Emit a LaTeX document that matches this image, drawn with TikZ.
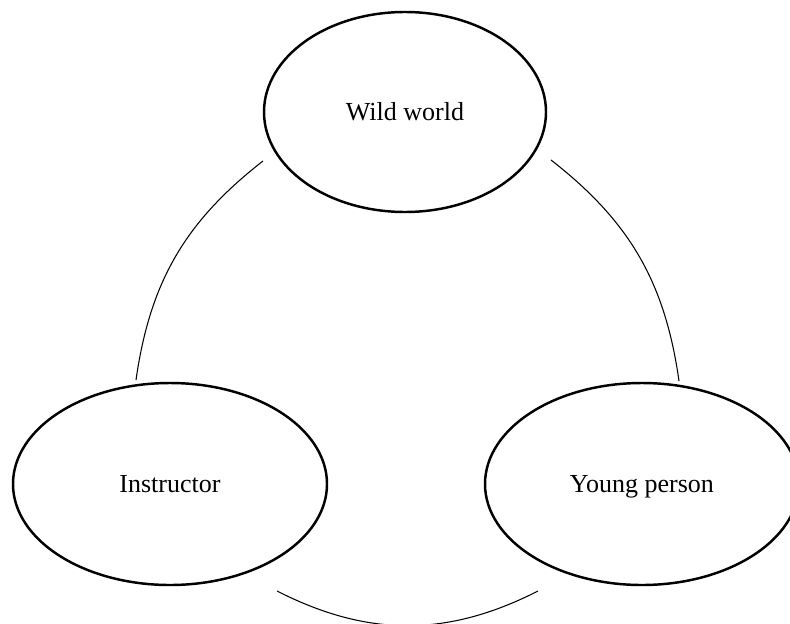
\documentclass[tikz,border=0pt]{standalone}
\usepackage{fontspec}
\setmainfont{Liberation Serif}
\usetikzlibrary{shapes.geometric}
\tikzset{
  bubble/.style={draw, ellipse, line width=1.4pt, inner sep=0pt, text height=2.2ex, text depth=0.2ex, font=\fontsize{14.8}{18}\selectfont},
  link/.style={line width=0.6pt}
}
\begin{document}
\begin{tikzpicture}
\useasboundingbox[fill=white] (0,0) rectangle (15.8,12.46);
\node[bubble, minimum width=5.64cm, minimum height=4.0cm] (wild) at (8.10,10.22) {Wild world};
\node[bubble, minimum width=6.28cm, minimum height=4.04cm] (instr) at (3.40,2.78) {Instructor};
\node[bubble, minimum width=6.28cm, minimum height=4.04cm] (young) at (12.84,2.78) {Young person};
% free ends of the arcs
\coordinate (wl) at (5.26,9.24);
\coordinate (wr) at (11.02,9.26);
\coordinate (it) at (2.72,4.86);
\coordinate (ib) at (5.54,0.64);
\coordinate (yt) at (13.58,4.84);
\coordinate (yb) at (10.76,0.64);
\draw[link] (wl) to[bend right=22] (it);
\draw[link] (wr) to[bend left=22] (yt);
\draw[link] (ib) to[bend right=27] (yb);
\end{tikzpicture}
\end{document}
